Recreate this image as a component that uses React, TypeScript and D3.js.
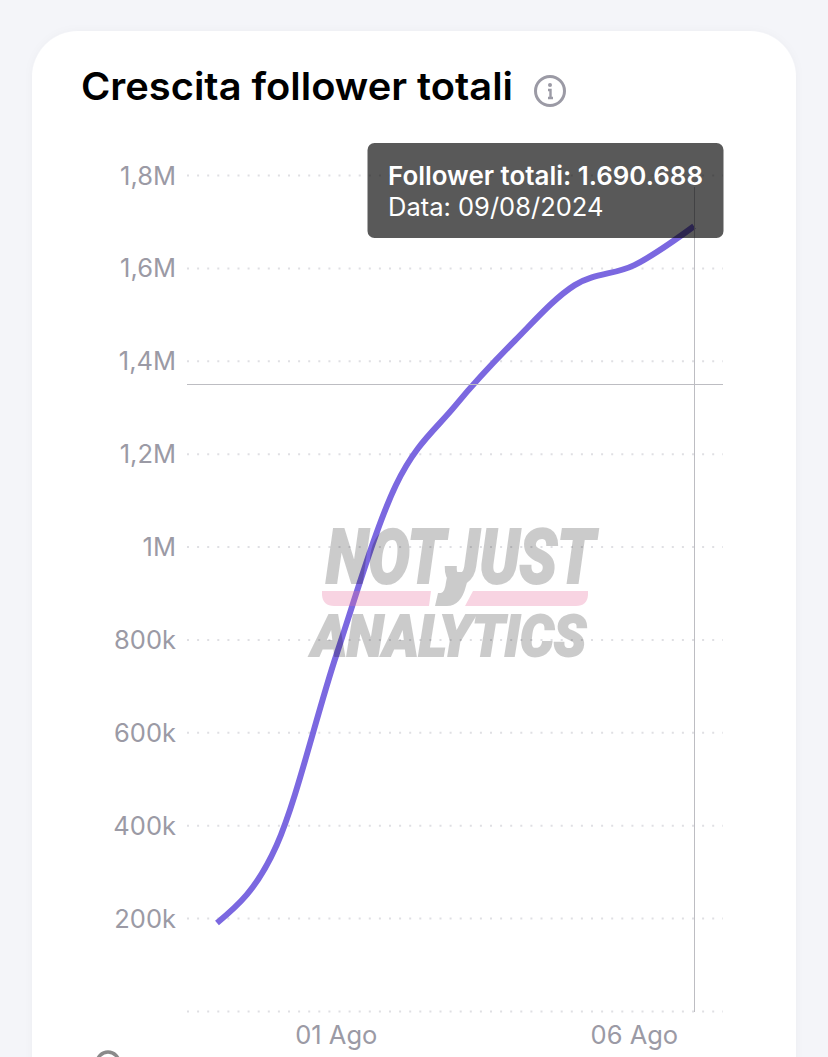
import React from "react";
import * as d3 from "d3";

const days = ["2024-07-30","2024-07-31","2024-08-01","2024-08-02","2024-08-03","2024-08-04","2024-08-05","2024-08-06","2024-08-07"];
const followers = [190500,358000,767000,1133000,1305000,1445000,1564000,1607000,1690688];
const yTicks = [200000,400000,600000,800000,1000000,1200000,1400000,1600000,1800000];
const gridValues = [0,...yTicks];
const yTickLabels = ["200k","400k","600k","800k","1M","1,2M","1,4M","1,6M","1,8M"];
const xTickDays = ["2024-08-01","2024-08-06"];
const xTickLabels = ["01 Ago","06 Ago"];
const titleText = "Crescita follower totali";
const tooltipLines = ["Follower totali: 1.690.688","Data: 09/08/2024"];

const W = 828, H = 1057;
const FONT = "Inter, 'Noto Sans', sans-serif";
const x = d3.scaleUtc().domain([new Date(days[0]), new Date(days[8])]).range([217, 694]);
const y = d3.scaleLinear().domain([0, 1800000]).range([1011.5, 175.5]);
const line = d3.line<number>().x((_, i) => x(new Date(days[i]))).y(d => y(d)).curve(d3.curveMonotoneX);

export default function App() {
  return (
    <svg width={W} height={H} viewBox={`0 0 ${W} ${H}`} style={{position:"fixed",left:0,top:0,display:"block"}} fontFamily={FONT}>
      <defs>
        <filter id="sh" x="-10%" y="-10%" width="120%" height="120%">
          <feDropShadow dx="0" dy="0" stdDeviation="4" floodColor="#000" floodOpacity="0.03"/>
        </filter>
      </defs>
      <rect width={W} height={H} fill="#f4f5f9"/>
      <rect x={32} y={31} width={764} height={1100} rx={46} fill="#fff" filter="url(#sh)"/>
      <text x={81} y={100} fontSize={38.5} fontWeight={600} fill="#000" textLength={432} lengthAdjust="spacingAndGlyphs">{titleText}</text>
      <g transform="translate(550,91)" stroke="#9b9aa5" fill="none">
        <circle r={14.5} strokeWidth={3}/>
        <circle cy={-6} r={2} fill="#9b9aa5" stroke="none"/>
        <path d="M-2,-1 H0.5 V7 M-2,7 H3" strokeWidth={2.4}/>
      </g>
      {gridValues.map(v => (
        <line key={v} x1={187} x2={723} y1={y(v)} y2={y(v)} stroke="#dfdfe3" strokeWidth={2} strokeDasharray="2 8.1"/>
      ))}
      {yTicks.map((v,i) => (
        <text key={v} x={176} y={y(v)+9} textAnchor="end" fontSize={25.5} fill="#9b9aa5">{yTickLabels[i]}</text>
      ))}
      {xTickDays.map((d,i) => (
        <text key={d} x={x(new Date(d))} y={1044} textAnchor="middle" fontSize={25.5} fill="#9b9aa5">{xTickLabels[i]}</text>
      ))}
      <path d={line(followers) ?? ""} fill="none" stroke="#7b68e0" strokeWidth={6}/>
      <line x1={694.5} x2={694.5} y1={187} y2={1012} stroke="#bdbdc2" strokeWidth={1}/>
      <line x1={187} x2={723} y1={384.5} y2={384.5} stroke="#bdbdc2" strokeWidth={1}/>
      <g opacity={0.2} fontFamily="Roboto, Inter, sans-serif" fontWeight={900} fontStyle="italic" fill="#000" stroke="#000" strokeWidth={2}>
        <text x={326} y={583} fontSize={76} wordSpacing={-16} textLength={269} lengthAdjust="spacingAndGlyphs">NOT JUST</text>
        <text x={312} y={656} fontSize={58} textLength={274} lengthAdjust="spacingAndGlyphs">ANALYTICS</text>
        <path stroke="none" d="M448,572 H470 L466,586 Q461,606 447,606 H435 L438,593 H441 Q445,592 446,582 Z"/>
      </g>
      <g fill="#e8709f" fillOpacity={0.3}>
        <path d="M322,591 H431 L429,606 H334 Q323,606 322,595 Z"/>
        <path d="M473,591 H588 V595 Q587,606 576,606 H465 Z"/>
      </g>
      <rect x={367.5} y={143} width={356} height={95} rx={7} fill="#000" fillOpacity={0.65}/>
      <text x={388} y={185} fontSize={26} fontWeight={600} fill="#fff" textLength={315} lengthAdjust="spacingAndGlyphs">{tooltipLines[0]}</text>
      <text x={388} y={216} fontSize={25.5} fontWeight={400} fill="#fff">{tooltipLines[1]}</text>
      <circle cx={108} cy={1063} r={11} fill="none" stroke="#8a8a8a" strokeWidth={3.5}/>
      <circle cx={127} cy={1061} r={4} fill="#c4c4c4"/>
      <circle cx={148} cy={1061} r={4} fill="#c4c4c4"/>
    </svg>
  );
}
